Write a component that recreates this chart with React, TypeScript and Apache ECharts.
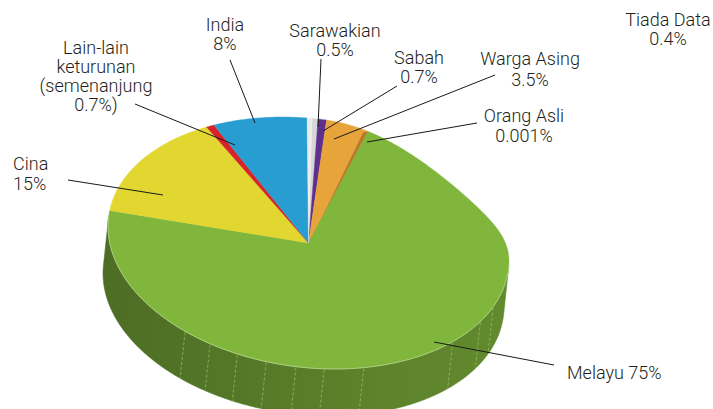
import React, { useEffect, useRef } from 'react';
import * as echarts from 'echarts';

// ---- data (clockwise from the top) ----
const categories = [
  'Sarawakian',
  'Sabah',
  'Warga Asing',
  'Orang Asli',
  'Melayu',
  'Cina',
  'Lain-lain keturunan (semenanjung)',
  'India',
  'Tiada Data',
];
const values = [0.5, 0.7, 3.5, 0.001, 75, 15, 0.7, 8, 0.4];
const sliceColors = [
  '#d6d6d6',
  '#5e2f8f',
  '#e6a43b',
  '#c98b3a',
  '#81b63c',
  '#e2d731',
  '#d7242b',
  '#289dd0',
  '#ececec',
];
// label wording (name part, separator before the value, suffix after %)
const labelNames = [
  'Sarawakian',
  'Sabah',
  'Warga Asing',
  'Orang Asli',
  'Melayu',
  'Cina',
  'Lain-lain\nketurunan\n(semenanjung',
  'India',
  'Tiada Data',
];
const labelSeparators = ['\n', '\n', '\n', '\n', ' ', '\n', '\n', '\n', '\n'];
const labelSuffixes = ['', '', '', '', '', '', ')', '', ''];

// ---- layout (annotation positions, not data) ----
const labelLayout = [
  { x: 335, y: 40, lh: 19.2, align: 'center' },
  { x: 419, y: 66.7, lh: 19.2, align: 'center' },
  { x: 530, y: 69, lh: 21.7, align: 'center' },
  { x: 524, y: 125.5, lh: 19.2, align: 'center' },
  { x: 567, y: 372, lh: 19.2, align: 'left' },
  { x: 13, y: 173.5, lh: 19.2, align: 'left' },
  { x: 96, y: 76, lh: 19.3, align: 'center' },
  { x: 225, y: 34, lh: 19.2, align: 'center' },
  { x: 668, y: 29, lh: 19.2, align: 'center' },
];
const leaderLines: (number[] | null)[] = [
  [321, 59, 318, 127],
  [397, 86, 323, 131],
  [495, 75, 334, 139],
  [477, 123, 367, 142],
  [554, 365, 434, 342],
  [68, 180, 163, 195],
  [135, 104, 235, 145],
  [230, 60, 255, 123],
  null,
];
// facet seams seen on the side wall (ellipse angle, degrees)
const facetAngles = [128, 119.4, 110.8, 102.2, 93.6, 85.5, 74, 44, 31, 23];

const CX = 308.5;
const CY = 243;
const AX = 200.5;
const B1 = 16.5;
const B2 = 124.9;
const DX = -5;
const DY = 47;
const START = 1;
// visible side wall: between the two silhouette tangents of the extrusion
const WALL_T0 = (Math.atan2(DX * B2, -AX * DY + DX * B1) * 180) / Math.PI; // in degrees
const WALL_FROM = ((WALL_T0 % 180) + 180) % 180 + 90; // psi
const WALL_TO = WALL_FROM + 180;

function rgb(hex: string) {
  const h = hex.replace('#', '');
  return [parseInt(h.slice(0, 2), 16), parseInt(h.slice(2, 4), 16), parseInt(h.slice(4, 6), 16)];
}
function shade(hex: string, f: number) {
  const [r, g, b] = rgb(hex);
  return `rgb(${Math.round(r * f)},${Math.round(g * f)},${Math.round(b * f)})`;
}
function lighten(hex: string, f: number) {
  const [r, g, b] = rgb(hex);
  return `rgb(${Math.round(r + (255 - r) * f)},${Math.round(g + (255 - g) * f)},${Math.round(b + (255 - b) * f)})`;
}

export default function App() {
  const ref = useRef<HTMLDivElement>(null);
  useEffect(() => {
    if (!ref.current) return;
    const chart = echarts.init(ref.current, null, { renderer: 'svg' });
    const total = values.reduce((a, b) => a + b, 0);
    const starts: number[] = [];
    const ends: number[] = [];
    let acc = START;
    values.forEach((v) => {
      starts.push(acc);
      acc += (v / total) * 360;
      ends.push(acc);
    });
    const proj = (psi: number, r = 1) => {
      const td = psi - 90;
      const t = (td * Math.PI) / 180;
      let y = CY + r * (B1 * Math.cos(t) + B2 * Math.sin(t));
      // perspective flattening of the upper-right rim
      if (td > -85 && td < 10) {
        const s = Math.sin((Math.PI * (td + 85)) / 95);
        y += r * 18 * s * s;
      }
      return [CX + r * AX * Math.cos(t), y];
    };
    const arcPts = (a0: number, a1: number) => {
      const n = Math.max(1, Math.ceil((a1 - a0) / 0.5));
      const out: number[][] = [];
      for (let k = 0; k <= n; k++) out.push(proj(a0 + ((a1 - a0) * k) / n));
      return out;
    };

    const wallRender = (params: any) => {
      const i = params.dataIndex;
      const a0 = Math.max(starts[i], WALL_FROM);
      const a1 = Math.min(ends[i], WALL_TO);
      if (a1 <= a0) return { type: 'group', children: [] };
      const top = arcPts(a0, a1);
      const bottom = top.map((p) => [p[0] + DX, p[1] + DY]).reverse();
      const c = sliceColors[i];
      const fill = new echarts.graphic.LinearGradient(
        CX - AX + DX,
        0,
        CX + AX,
        0,
        [
          { offset: 0, color: shade(c, 0.6) },
          { offset: 0.2, color: shade(c, 0.63) },
          { offset: 0.55, color: shade(c, 0.7) },
          { offset: 1, color: shade(c, 0.76) },
        ],
        true
      );
      const children: any[] = [
        {
          type: 'polygon',
          shape: { points: [...top, ...bottom] },
          style: { fill, stroke: fill, lineWidth: 0.5 },
        },
      ];
      facetAngles.forEach((ta) => {
        const psi = ta + 90;
        if (psi > a0 && psi < a1) {
          const p = proj(psi);
          children.push({
            type: 'line',
            z2: 10,
            shape: { x1: p[0], y1: p[1] + 1, x2: p[0] + DX, y2: p[1] + DY },
            style: { stroke: lighten(c, 0.3), lineWidth: 0.6, lineDash: [3, 2] },
          });
        }
      });
      return { type: 'group', children };
    };

    const topRender = (params: any) => {
      const i = params.dataIndex;
      const a0 = starts[i];
      const a1 = ends[i];
      const arc = arcPts(a0, a1);
      const children: any[] = [
        {
          type: 'polygon',
          shape: { points: [[CX, CY], ...arc] },
          style: { fill: sliceColors[i], stroke: sliceColors[i], lineWidth: 0.4 },
        },
      ];
      // thin highlight along the front rim
      const front = arc.filter((_, k) => {
        const psi = a0 + ((a1 - a0) * k) / Math.max(1, arc.length - 1);
        return psi >= WALL_FROM - 2 && psi <= WALL_TO + 2;
      });
      if (front.length > 1) {
        children.push({
          type: 'polyline',
          shape: { points: front },
          style: { stroke: lighten(sliceColors[i], 0.4), lineWidth: 0.9, fill: 'none' },
        });
      }
      if (i === 2) {
        const p = proj(a1);
        children.push({
          type: 'polygon',
          shape: { points: [p, [CX + 1, CY], [p[0] - 5, p[1] + 1]] },
          style: { fill: '#b9792e' },
        });
      }
      return { type: 'group', children };
    };

    const font = 'Roboto, "Liberation Sans", Arial, sans-serif';
    const graphics: any[] = [];
    leaderLines.forEach((l) => {
      if (!l) return;
      graphics.push({
        type: 'line',
        z: 10,
        shape: { x1: l[0], y1: l[1], x2: l[2], y2: l[3] },
        style: { stroke: '#1a1a1a', lineWidth: 1 },
      });
    });
    categories.forEach((_, i) => {
      const L = labelLayout[i];
      graphics.push({
        type: 'text',
        z: 11,
        x: L.x,
        y: L.y,
        style: {
          text: `${labelNames[i]}${labelSeparators[i]}${values[i]}%${labelSuffixes[i]}`,
          fontFamily: font,
          fontWeight: 300,
          fontSize: 18,
          lineHeight: L.lh,
          fill: '#231f20',
          align: L.align,
          verticalAlign: 'middle',
        },
      });
    });

    chart.setOption({
      animation: false,
      backgroundColor: '#ffffff',
      series: [
        {
          type: 'custom',
          name: 'wall',
          coordinateSystem: 'none',
          silent: true,
          z: 1,
          data: values.map((v, i) => [i, v]),
          renderItem: wallRender,
        },
        {
          type: 'custom',
          name: 'top',
          coordinateSystem: 'none',
          silent: true,
          z: 2,
          data: values.map((v, i) => [i, v]),
          renderItem: topRender,
        },
      ],
      graphic: graphics,
    });
    return () => chart.dispose();
  }, []);
  return (
    <div
      ref={ref}
      style={{ position: 'fixed', left: 0, top: 0, width: 713, height: 409, background: '#fff' }}
    />
  );
}
